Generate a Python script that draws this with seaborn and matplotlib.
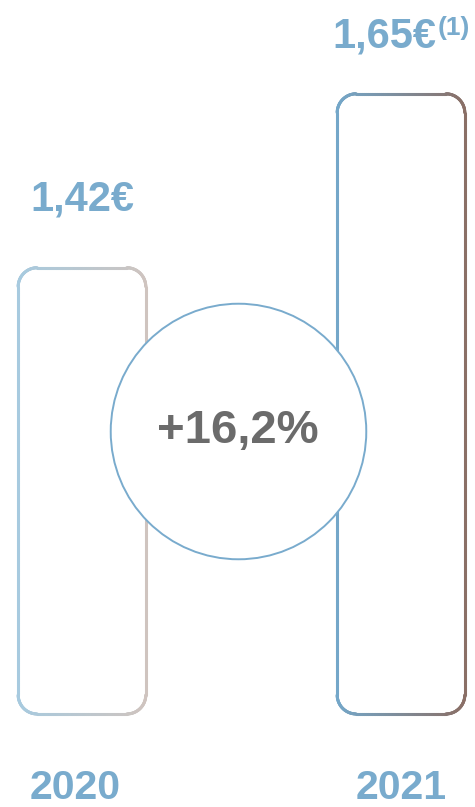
import numpy as np
import pandas as pd
import matplotlib
matplotlib.use("Agg")
import matplotlib.pyplot as plt
import matplotlib.transforms as mtransforms
from matplotlib.collections import LineCollection
from matplotlib.colors import LinearSegmentedColormap
import seaborn as sns

# Data
years = ["2020", "2021"]
dividends = [1.42, 1.65]
value_labels = ["1,42€", "1,65€"]
footnotes = ["", "(1)"]

# Style
sns.set_style("white")
plt.rcParams["font.family"] = ["Liberation Sans", "DejaVu Sans"]

BLUE = "#79abcd"
GREY = "#6b6b6b"
edge_colors = [("#a7cadf", "#cfc4bf"), ("#74a7c9", "#8a6f66")]
label_pad = [41, 33]      # points above bar top
label_shift = [0, -12]    # points, to centre label + footnote
year_shift = [-5, 0]
base = 0.83               # bars start here (axis is not zero based)


def rounded_outline(x0, y0, x1, y1, r, n=40):
    pts = []
    corners = [(x1 - r, y1 - r, 0, 90), (x0 + r, y1 - r, 90, 180),
               (x0 + r, y0 + r, 180, 270), (x1 - r, y0 + r, 270, 360)]
    for cx, cy, a0, a1 in corners:
        t = np.radians(np.linspace(a0, a1, n))
        pts.append(np.column_stack([cx + r * np.cos(t), cy + r * np.sin(t)]))
    pts.append(pts[0][:1])
    pts = np.vstack(pts)
    dense = []
    for a, b in zip(pts[:-1], pts[1:]):
        k = max(int(np.hypot(*(b - a)) / 2), 1)
        s = np.linspace(0, 1, k, endpoint=False)[:, None]
        dense.append(a + (b - a) * s)
    dense.append(pts[-1:])
    return np.vstack(dense)


fig = plt.figure(figsize=(4.75, 8.07), dpi=100)
ax = fig.add_axes([0, 0, 1, 1])

df = pd.DataFrame({"year": years, "dividend": dividends})
sns.barplot(data=df, x="year", y="dividend", width=0.4, color="white", ax=ax)
ax.set_xlim(-0.257, 1.232)
ax.set_ylim(0.707, 1.774)
ax.axis("off")

xpos = []
for i, p in enumerate(ax.patches):
    x0, w, top = p.get_x(), p.get_width(), p.get_height()
    p.set_visible(False)
    xpos.append(x0 + w / 2)
    (px0, py0), (px1, py1) = ax.transData.transform([(x0, base), (x0 + w, top)])
    pts = rounded_outline(px0, py0, px1, py1, 19)
    segs = np.stack([pts[:-1], pts[1:]], axis=1)
    cmap = LinearSegmentedColormap.from_list("edge", edge_colors[i])
    frac = (segs[:, :, 0].mean(axis=1) - px0) / (px1 - px0)
    lc = LineCollection(segs, colors=cmap(frac), linewidths=2.2,
                        capstyle="round", transform=mtransforms.IdentityTransform())
    ax.add_collection(lc, autolim=False)

    lab = ax.annotate(value_labels[i], xy=(xpos[i], dividends[i]),
                      xytext=(label_shift[i], label_pad[i]), textcoords="offset points",
                      ha="center", va="baseline", fontsize=30, fontweight="bold", color=BLUE)
    if footnotes[i]:
        ax.annotate(footnotes[i], xy=(1, 1), xycoords=lab, xytext=(1, 1),
                    textcoords="offset points", ha="left", va="top",
                    fontsize=19, fontweight="bold", color=BLUE)

    ax.annotate(years[i], xy=(xpos[i], 0), xycoords=("data", "axes fraction"),
                xytext=(year_shift[i], 6), textcoords="offset points", ha="center",
                va="baseline", fontsize=29.5, fontweight="bold", color=BLUE)

# Growth circle
growth = (dividends[1] / dividends[0] - 1) * 100
blend = mtransforms.blended_transform_factory(ax.transData, ax.transAxes)
cx = np.mean(xpos) - 0.01
ax.scatter([cx], [0.466], s=184 ** 2, marker="o", facecolor="white",
           edgecolor=BLUE, linewidth=1.4, transform=blend, zorder=5)
ax.text(cx, 0.466, f"+{growth:.1f}%".replace(".", ","), transform=blend,
        ha="center", va="center", fontsize=34, fontweight="bold", color=GREY, zorder=6)

fig.savefig("out.png", dpi=100)
